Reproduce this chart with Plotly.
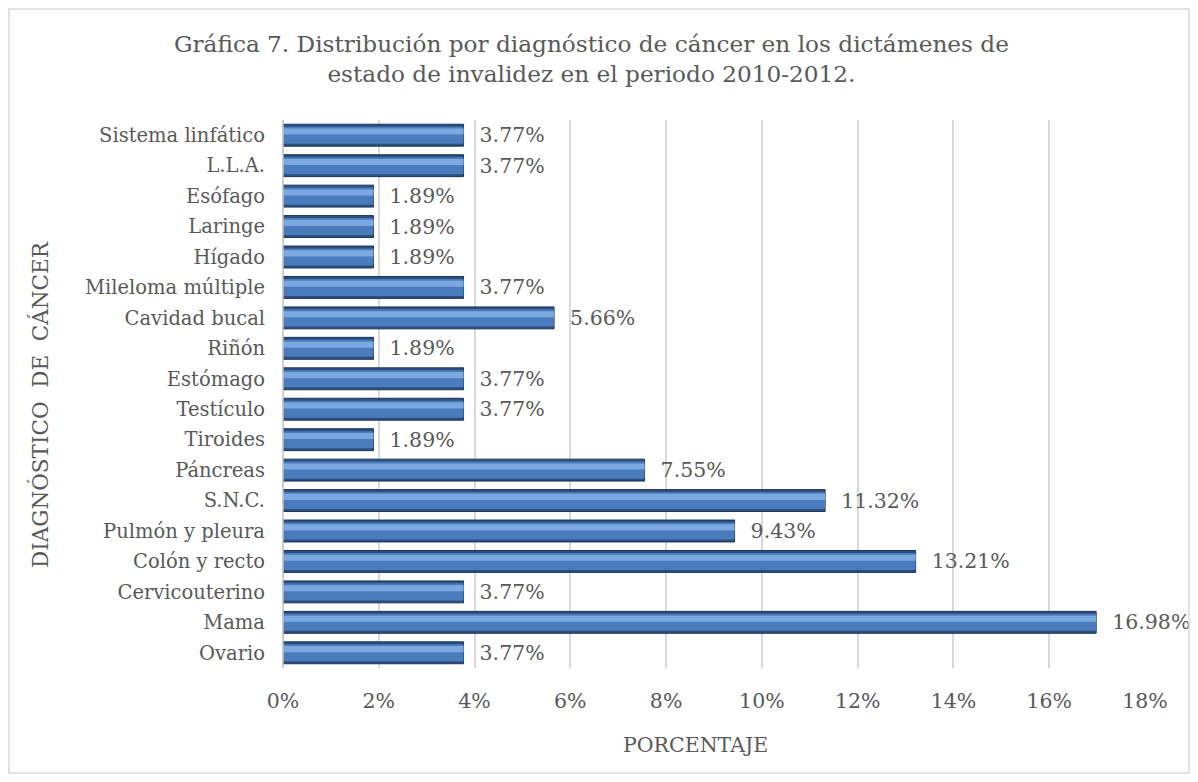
import plotly.graph_objects as go

categories = ["Ovario", "Mama", "Cervicouterino", "Colón y recto", "Pulmón y pleura",
              "S.N.C.", "Páncreas", "Tiroides", "Testículo", "Estómago", "Riñón",
              "Cavidad bucal", "Mileloma múltiple", "Hígado", "Laringe", "Esófago",
              "L.L.A.", "Sistema linfático"]
values = [3.77, 16.98, 3.77, 13.21, 9.43, 11.32, 7.55, 1.89, 3.77, 3.77, 1.89,
          5.66, 3.77, 1.89, 1.89, 1.89, 3.77, 3.77]
tick_vals = [0, 2, 4, 6, 8, 10, 12, 14, 16, 18]
tick_text = ["0%", "2%", "4%", "6%", "8%", "10%", "12%", "14%", "16%", "18%"]

FONT = "DejaVu Serif"
GREY = "#595959"

# page is offset by 8px (body margin); work in figure coordinates
OFF = 8
W, H = 1182, 766
L, R, T, B = 283 - OFF, 1145 - OFF, 120 - OFF, 668 - OFF
def px(x): return (x - OFF - L) / (R - L)
def py(y): return (B - (y - OFF)) / (B - T)

fig = go.Figure()
# dark base (edges)
fig.add_trace(go.Bar(
    y=categories, x=values, orientation="h",
    marker=dict(color="#2a4f80", line=dict(color="#1c3558", width=1)),
    width=0.72,
    text=[f"{v:.2f}%" for v in values],
    texttemplate="\u00a0\u00a0%{text}",
    textposition="outside", constraintext="none",
    textfont=dict(family=FONT, size=20.5, color=GREY),
    cliponaxis=False, hoverinfo="x+y",
))
# main body
fig.add_trace(go.Bar(
    y=categories, x=values, orientation="h",
    marker=dict(color="#4a7cbd", line=dict(width=0)),
    width=0.56, offset=-0.28, hoverinfo="skip",
))
# light highlight band (upper part)
fig.add_trace(go.Bar(
    y=categories, x=values, orientation="h",
    marker=dict(color="#7ba8e0", line=dict(width=0)),
    width=0.2, offset=0.02, hoverinfo="skip",
))

fig.update_layout(
    width=W, height=H,
    margin=dict(l=L, r=W - R, t=T, b=H - B, pad=0),
    paper_bgcolor="white", plot_bgcolor="white",
    barmode="overlay", showlegend=False,
    font=dict(family=FONT, color=GREY, size=19),
    xaxis=dict(range=[0, 18], tickmode="array", tickvals=tick_vals, ticktext=tick_text,
               showgrid=True, gridcolor="#d9d9d9", gridwidth=1.5,
               zeroline=False, showline=False, ticks="",
               tickfont=dict(family=FONT, size=20.5, color=GREY), ticklabelstandoff=18),
    yaxis=dict(categoryorder="array", categoryarray=categories,
               showgrid=False, zeroline=False, showline=False, ticks="",
               tickfont=dict(family=FONT, size=19.5, color=GREY), ticklabelstandoff=17),
    annotations=[
        dict(text="Gráfica 7. Distribución por diagnóstico de cáncer en los dictámenes de<br>estado de invalidez en el periodo 2010-2012.",
             xref="paper", yref="paper", x=px(591), y=py(59), showarrow=False,
             xanchor="center", yanchor="middle",
             font=dict(family=FONT, size=23.2, color=GREY)),
        dict(text="PORCENTAJE", xref="paper", yref="paper", x=px(695), y=py(745),
             showarrow=False, xanchor="center", yanchor="middle",
             font=dict(family=FONT, size=20.5, color=GREY)),
        dict(text="DIAGNÓSTICO\u00a0\u00a0DE\u00a0\u00a0CÁNCER", xref="paper", yref="paper",
             x=px(40), y=py(405), showarrow=False, textangle=-90,
             xanchor="center", yanchor="middle",
             font=dict(family=FONT, size=21.5, color=GREY)),
    ],
    shapes=[
        dict(type="line", xref="paper", yref="paper", x0=0, x1=0, y0=0, y1=1,
             line=dict(color="#bfbfbf", width=1.5)),
        dict(type="rect", xref="paper", yref="paper", x0=px(9), x1=px(1189),
             y0=py(9), y1=py(773), line=dict(color="#d9d9d9", width=1.5)),
    ],
)

fig.write_html("out.html")
